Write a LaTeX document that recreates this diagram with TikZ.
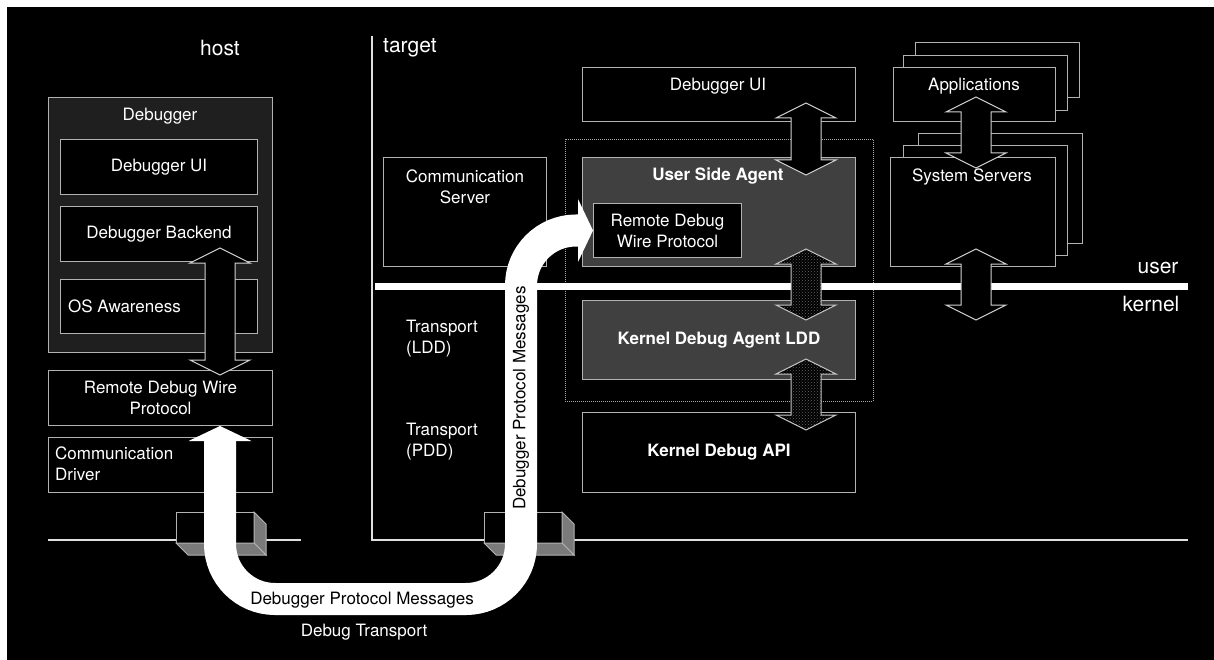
\documentclass[tikz,border=0pt]{standalone}
\usepackage{fontspec}
\setmainfont{TeX Gyre Heros}
\usepackage{tikz}
\usetikzlibrary{calc,arrows.meta,patterns}
\newcommand{\lblfont}{\fontsize{17}{21}\selectfont}
\newcommand{\biglbl}{\fontsize{21}{25}\selectfont}
\newcommand{\boldlbl}{\fontsize{17}{21}\selectfont\bfseries}
\tikzset{
  box/.style      = {draw=gray!60!white, line width=1pt, fill=black, inner sep=0pt,
                     anchor=north west, text=white, align=center, font=\lblfont},
  txt/.style      = {text=white, inner sep=0pt, font=\lblfont},
  agentbox/.style = {draw=gray!70, line width=0.8pt, dash pattern=on 1pt off 1pt,
                     inner sep=0pt, anchor=north west},
  rule/.style     = {draw=gray!25!white, line width=1.6pt},
  ukline/.style   = {draw=white, line width=7pt},
  blockarr/.style = {draw=gray!35!white, line width=1pt, fill=black},
  hatcharr/.style = {preaction={fill=black}, pattern=crosshatch dots,
                     pattern color=black!62, draw=gray!45!white, line width=1pt},
  plug/.style     = {draw=gray!60!white, line width=1pt},
  msgflow/.style  = {white, line width=32pt, rounded corners=55pt,
                     arrows={Triangle[length=15pt,width=63pt,line width=0pt]-Triangle[length=15pt,width=63pt,line width=0pt]}},
  msgtxt/.style   = {text=black, inner sep=0pt, font=\lblfont},
}
% double block arrow between two tips (top, bottom)
\newcommand{\blockarrow}[3][blockarr]{%
  \draw[#1] (#2) -- ++(30,15) -- ++(-15,0) -- ($(#3)+(15,-15)$) -- ++(15,0)
    -- (#3) -- ++(-30,-15) -- ++(15,0) -- ($(#2)+(-15,15)$) -- ++(-15,0) -- cycle;}
% connector drawn as a small 3d block on the wire
\newcommand{\plugbox}[1]{%
  \draw[plug, fill=black] (#1,512) rectangle ++(78,31);
  \draw[plug, fill=black!52] (#1+78,512) -- ++(12,12) -- ++(0,31) -- ++(-12,-12) -- cycle;
  \draw[plug, fill=black!52] (#1,543) -- ++(78,0) -- ++(12,12) -- ++(-78,0) -- cycle;}

\begin{document}
\begin{tikzpicture}[x=1pt, y=-1pt]
  \useasboundingbox (0,0) rectangle (1214,660);
  \fill[white] (0,0) rectangle (1214,660);
  \fill[black] (7,7) rectangle (1214,660);

  % host / target split and the wire
  \draw[rule] (372,36) -- (372,540) -- (1188,540);
  \draw[rule] (48,540) -- (301,540);

  % host
  \node[txt, font=\biglbl] (host) at (220,48) {host};
  \node[box, fill=black!88, minimum width=224pt, minimum height=255pt] (dbg) at (48,97) {};
  \node[txt] (dbgtxt) at (160,116) {Debugger};
  \node[box, minimum width=197pt, minimum height=55pt] (hdui) at (60,139) {Debugger UI};
  \node[box, minimum width=197pt, minimum height=55pt] (hbe) at (60,206) {Debugger Backend};
  \node[box, minimum width=197pt, minimum height=54pt] (hos) at (60,279) {};
  \node[txt, anchor=west] (hostxt) at (68,306) {OS Awareness};
  \node[box, minimum width=224pt, minimum height=55pt] (hrdwp) at (48,370) {Remote Debug Wire\\Protocol};
  \node[box, minimum width=224pt, minimum height=55pt] (hcd) at (48,437) {};
  \node[txt, anchor=west, align=left] (hcdtxt) at (55,464) {Communication\\Driver};

  % target
  \node[txt, font=\biglbl, anchor=west] (tgt) at (383,48) {target};
  \node[box, minimum width=163pt, minimum height=109pt] (tcs) at (383,157) {};
  \node[txt, align=center] (tcstxt) at (465,187) {Communication\\Server};
  \node[box, minimum width=273pt, minimum height=54pt] (tdui) at (582,67) {};
  \node[txt] (tduitxt) at (718,86) {Debugger UI};
  \node[agentbox, minimum width=308pt, minimum height=262pt] (agent) at (565,139) {};
  \node[box, fill=black!75, minimum width=273pt, minimum height=109pt] (usa) at (582,157) {};
  \node[txt, font=\boldlbl] (usatxt) at (718,176) {User Side Agent};
  \node[box, minimum width=148pt, minimum height=54pt] (trdwp) at (593,203) {Remote Debug\\Wire Protocol};
  \node[box, fill=black!75, minimum width=273pt, minimum height=79pt, font=\boldlbl] (kda) at (582,300) {Kernel Debug Agent LDD};
  \node[box, minimum width=273pt, minimum height=80pt, font=\boldlbl] (kapi) at (582,412) {Kernel Debug API};

  % stacked processes
  \foreach \dx/\dy [count=\i] in {22/-25, 10/-12}
    \node[box, minimum width=164pt, minimum height=55pt] (apps-\i) at ({893+\dx},{67+\dy}) {};
  \node[box, minimum width=162pt, minimum height=54pt] (apps) at (893,67) {};
  \node[txt] (appstxt) at (974,86) {Applications};
  \foreach \dx/\dy [count=\i] in {28/-24, 13/-12}
    \node[box, minimum width=164pt, minimum height=110pt] (sys-\i) at ({890+\dx},{157+\dy}) {};
  \node[box, minimum width=165pt, minimum height=109pt] (sys) at (890,157) {};

  % user / kernel boundary
  \draw[ukline] (375,286) -- (1188,286);
  \node[txt, font=\biglbl] (user) at (1158,268) {user};
  \node[txt, font=\biglbl] (kernel) at (1151,304) {kernel};
  \node[txt, anchor=west, align=left] (tldd) at (406,339) {Transport\\(LDD)};
  \node[txt, anchor=west, align=left] (tpdd) at (406,442) {Transport\\(PDD)};

  % block arrows
  \coordinate (a1t) at (220,248);  \coordinate (a1b) at (220,375);
  \coordinate (a2t) at (806,103);  \coordinate (a2b) at (806,175);
  \coordinate (a3t) at (806,249);  \coordinate (a3b) at (806,320);
  \coordinate (a4t) at (806,359);  \coordinate (a4b) at (806,430);
  \coordinate (a5t) at (976,97);   \coordinate (a5b) at (976,168);
  \coordinate (a6t) at (976,249);  \coordinate (a6b) at (976,320);
  \blockarrow{a1t}{a1b}
  \blockarrow{a2t}{a2b}
  \blockarrow[hatcharr]{a3t}{a3b}
  \blockarrow[hatcharr]{a4t}{a4b}
  \blockarrow{a5t}{a5b}
  \blockarrow{a6t}{a6b}
  \node[txt] (systxt) at (972,177) {System Servers};

  % connectors on the wire
  \plugbox{176}
  \plugbox{484}

  % protocol messages
  \coordinate (ubl) at (220,599);
  \coordinate (ubr) at (521,599);
  \draw[msgflow] (ubl |- hrdwp.south) -- (ubl) -- (ubr) |- (trdwp.west);
  \node[msgtxt] (msgh) at (362,600) {Debugger Protocol Messages};
  \node[msgtxt, rotate=90] (msgv) at (521,398) {Debugger Protocol Messages};
  \node[txt] (dtrans) at (364,632) {Debug Transport};
\end{tikzpicture}
\end{document}
